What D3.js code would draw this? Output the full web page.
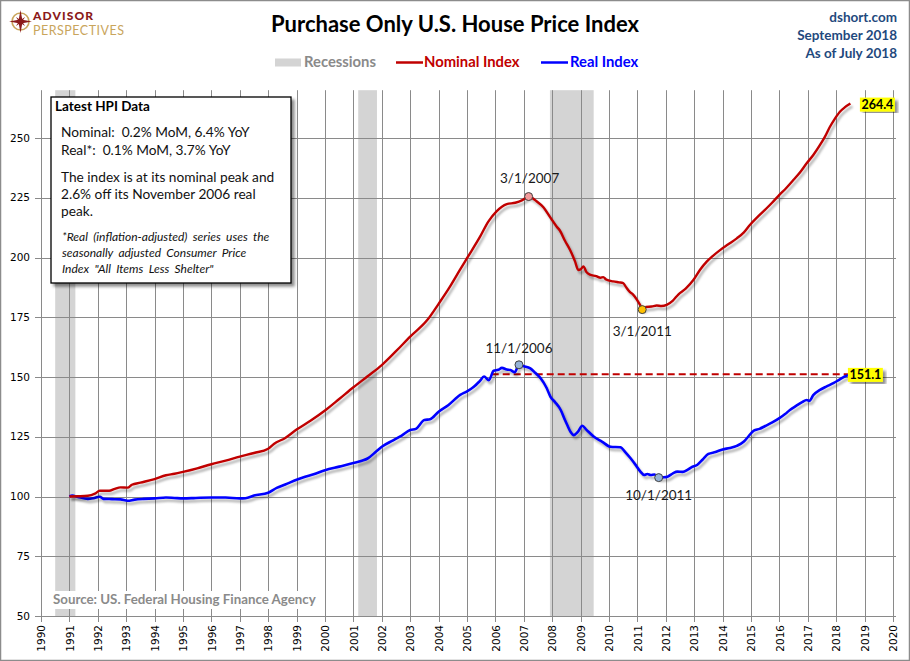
<!DOCTYPE html>
<html>
<head>
<meta charset="utf-8">
<script src="https://cdn.jsdelivr.net/npm/d3@7"></script>
<style>
  body { margin: 0; background: #fff; }
  svg { display: block; }
</style>
</head>
<body>
<svg id="chart" width="910" height="661"></svg>
<script>
// ---------------- DATA ----------------
const nominalYears = [1991.0,1991.3,1991.65,1991.9,1992.07,1992.4,1992.6,1992.8,1993.05,1993.2,1993.5,1994.0,1994.4,1994.7,1995.0,1995.5,1996.0,1996.5,1997.0,1997.5,1998.0,1998.2,1998.6,1999.0,1999.5,2000.0,2000.5,2001.0,2001.5,2002.0,2002.5,2003.0,2003.6,2004.0,2004.4,2004.75,2005.0,2005.46,2005.75,2006.04,2006.4,2006.7,2006.95,2007.17,2007.45,2007.69,2007.92,2008.16,2008.27,2008.45,2008.63,2008.8,2008.92,2009.0,2009.1,2009.2,2009.33,2009.55,2009.7,2009.8,2009.9,2010.15,2010.35,2010.5,2010.6,2010.74,2010.85,2010.98,2011.1,2011.17,2011.3,2011.5,2011.68,2011.85,2012.03,2012.25,2012.44,2012.7,2012.97,2013.2,2013.44,2013.65,2013.91,2014.2,2014.5,2014.75,2014.96,2015.25,2015.55,2015.75,2015.96,2016.25,2016.49,2016.75,2016.96,2017.2,2017.43,2017.6,2017.78,2017.95,2018.13,2018.3,2018.5];
const nominalValues = [100.0,100.1,100.3,101.2,102.4,102.4,103.2,103.8,103.7,104.9,105.8,107.3,108.9,109.5,110.3,111.8,113.5,115.0,116.7,118.2,120.0,122.0,124.5,128.0,131.8,136.0,140.8,145.7,150.3,155.0,160.8,166.9,173.8,180.6,187.8,194.8,199.7,208.7,215.0,219.3,222.3,222.9,224.0,225.5,223.5,221.0,217.0,212.9,211.3,207.0,203.1,198.5,194.8,195.0,196.3,194.0,192.8,192.2,191.5,191.8,190.8,190.0,189.6,189.3,187.6,185.5,184.5,182.4,180.0,178.2,179.3,179.5,179.9,179.7,180.2,182.0,184.5,187.0,190.6,194.8,198.3,200.6,203.1,205.5,208.0,210.5,213.6,217.2,220.6,223.0,225.7,229.2,232.4,236.0,239.4,243.0,247.1,250.5,254.7,258.0,261.0,262.8,264.4];

const realYears = [1991.0,1991.1,1991.3,1991.65,1991.85,1992.07,1992.2,1992.5,1992.8,1993.05,1993.3,1993.6,1994.0,1994.4,1994.7,1995.0,1995.3,1995.6,1996.0,1996.5,1997.0,1997.2,1997.5,1998.0,1998.3,1998.6,1999.0,1999.3,1999.6,2000.0,2000.5,2001.0,2001.3,2001.5,2001.8,2002.0,2002.4,2002.7,2003.0,2003.2,2003.5,2003.7,2004.0,2004.35,2004.76,2005.0,2005.24,2005.45,2005.6,2005.77,2005.94,2006.1,2006.23,2006.4,2006.53,2006.68,2006.83,2007.0,2007.23,2007.4,2007.6,2007.8,2007.94,2008.1,2008.3,2008.45,2008.53,2008.65,2008.76,2008.9,2009.06,2009.2,2009.47,2009.75,2010.06,2010.4,2010.58,2010.76,2010.95,2011.1,2011.24,2011.35,2011.47,2011.6,2011.75,2011.9,2012.06,2012.25,2012.41,2012.6,2012.76,2012.9,2013.1,2013.3,2013.5,2013.75,2014.0,2014.25,2014.5,2014.75,2014.9,2015.1,2015.3,2015.5,2015.75,2016.0,2016.2,2016.37,2016.6,2016.8,2016.96,2017.05,2017.2,2017.43,2017.65,2017.9,2018.1,2018.3,2018.5];
const realValues = [100.0,100.4,99.8,99.0,99.3,99.9,99.0,98.9,98.8,98.2,98.7,99.0,99.2,99.6,99.4,99.2,99.3,99.5,99.6,99.6,99.2,99.3,100.4,101.6,103.6,105.0,107.0,108.3,109.3,111.0,112.5,114.0,115.0,115.9,118.8,120.8,123.5,125.5,127.8,128.3,132.0,132.3,135.5,138.3,142.5,144.0,145.9,148.3,150.2,148.7,152.6,153.0,153.8,153.1,152.9,152.0,155.1,154.5,153.6,151.8,149.4,145.5,141.7,139.5,136.2,132.0,129.9,127.0,125.7,127.0,129.6,128.0,125.0,123.0,120.8,120.6,118.5,116.0,113.0,110.5,109.0,109.4,109.0,109.2,107.9,108.0,108.3,109.7,110.4,110.3,111.1,112.2,113.2,115.5,117.8,118.6,119.7,120.3,121.2,123.0,125.0,127.6,128.3,129.5,131.0,132.8,134.5,136.2,138.0,139.5,140.4,140.0,142.5,144.6,146.0,147.4,148.8,150.2,151.1];

const recessionStarts = [1990.5, 2001.17, 2007.92];
const recessionEnds   = [1991.21, 2001.83, 2009.46];

const xTickYears = d3.range(1990, 2021);
const yTickValues = [50, 75, 100, 125, 150, 175, 200, 225, 250];

const markerLabels = ["3/1/2007", "3/1/2011", "11/1/2006", "10/1/2011"];
const markerYears  = [2007.17, 2011.17, 2006.83, 2011.75];
const markerValues = [225.5, 178.2, 155.1, 107.9];

const latestNominal = 264.4;
const latestReal = 151.1;
const latestYear = 2018.5;
const dashStartYear = 2005.87;

// ---------------- LAYOUT ----------------
const svg = d3.select("#chart");
const W = 910, H = 661;
const x = d3.scaleLinear().domain([1990, 2020]).range([41, 893]);
const y = d3.scaleLinear().domain([50, 270]).range([616, 90.2]);
const FONT = "Lato, 'Open Sans', sans-serif";
const AXFONT = "'DejaVu Sans', Verdana, sans-serif";
const RED = "#c00000", BLUE = "#0000ff";

const defs = svg.append("defs");
const f = defs.append("filter").attr("id", "shadow").attr("x", "-5%").attr("y", "-5%").attr("width", "110%").attr("height", "110%");
f.append("feDropShadow").attr("dx", 2).attr("dy", 3).attr("stdDeviation", 1.3)
  .attr("flood-color", "#000").attr("flood-opacity", 0.3);
const f2 = defs.append("filter").attr("id", "boxshadow").attr("x", "-10%").attr("y", "-10%").attr("width", "120%").attr("height", "120%");
f2.append("feDropShadow").attr("dx", 3).attr("dy", 3).attr("stdDeviation", 1.5)
  .attr("flood-color", "#000").attr("flood-opacity", 0.45);

// background + border
svg.append("rect").attr("x", 0.5).attr("y", 0.5).attr("width", W - 1).attr("height", H - 1)
  .attr("fill", "#fff").attr("stroke", "#8c8c8c").attr("stroke-width", 1.5);

// recessions
svg.append("g").selectAll("rect").data(recessionStarts).join("rect")
  .attr("x", (d) => x(d))
  .attr("y", y(270))
  .attr("width", (d, i) => x(recessionEnds[i]) - x(d))
  .attr("height", y(50) - y(270))
  .attr("fill", "#d4d4d4");

// gridlines
const grid = svg.append("g").attr("stroke", "#8a8a8a").attr("stroke-width", 1);
grid.selectAll("line.v").data(xTickYears).join("line").attr("class", "v")
  .attr("x1", (d) => Math.round(x(d)) + 0.5).attr("x2", (d) => Math.round(x(d)) + 0.5)
  .attr("y1", y(270)).attr("y2", y(50) + 6);
grid.selectAll("line.h").data(yTickValues).join("line").attr("class", "h")
  .attr("x1", x(1990) - 6).attr("x2", x(2020) + 3)
  .attr("y1", (d) => Math.round(y(d)) + 0.5).attr("y2", (d) => Math.round(y(d)) + 0.5);

// axes labels
svg.append("g").selectAll("text").data(yTickValues).join("text")
  .attr("x", 30).attr("y", (d) => y(d)).attr("dy", "0.35em")
  .attr("text-anchor", "end").attr("font-family", AXFONT).attr("font-size", 10.5)
  .attr("fill", "#000").text((d) => d);
svg.append("g").selectAll("text").data(xTickYears).join("text")
  .attr("transform", (d) => `translate(${x(d) + 0.5},${y(50) + 9}) rotate(-90)`)
  .attr("dy", "0.36em").attr("text-anchor", "end")
  .attr("font-family", AXFONT).attr("font-size", 10.5).attr("fill", "#000")
  .text((d) => d);

// dashed line at current real level
svg.append("line")
  .attr("x1", x(dashStartYear)).attr("x2", x(latestYear))
  .attr("y1", y(latestReal)).attr("y2", y(latestReal))
  .attr("stroke", RED).attr("stroke-width", 2).attr("stroke-dasharray", "7,4");

// lines
const line = d3.line().x((d) => x(d[0])).y((d) => y(d[1])).curve(d3.curveMonotoneX);
const nominalData = nominalYears.map((yr, i) => [yr, nominalValues[i]]);
const realData = realYears.map((yr, i) => [yr, realValues[i]]);
svg.append("path").datum(realData).attr("d", line).attr("fill", "none")
  .attr("stroke", BLUE).attr("stroke-width", 2.6).attr("stroke-linejoin", "round").attr("filter", "url(#shadow)");
svg.append("path").datum(nominalData).attr("d", line).attr("fill", "none")
  .attr("stroke", RED).attr("stroke-width", 2.4).attr("stroke-linejoin", "round").attr("filter", "url(#shadow)");

// markers
const markerFill = ["#f49a9a", "#ffc000", "#95b3d7", "#95b3d7"];
svg.append("g").selectAll("circle").data(markerYears).join("circle")
  .attr("cx", (d) => x(d)).attr("cy", (d, i) => y(markerValues[i])).attr("r", 4)
  .attr("fill", (d, i) => markerFill[i]).attr("stroke", "#404040").attr("stroke-width", 1);
const labelDy = [-14, 26, -12, 22];
svg.append("g").selectAll("text").data(markerLabels).join("text")
  .attr("x", (d, i) => x(markerYears[i]) + (i === 0 ? 1 : 0))
  .attr("y", (d, i) => y(markerValues[i]) + labelDy[i])
  .attr("text-anchor", "middle").attr("font-family", FONT).attr("font-size", 13.5)
  .attr("fill", "#1a1a1a").text((d) => d);

// end labels
function endLabel(val, xPos, yPos) {
  const g = svg.append("g");
  const t = g.append("text").attr("x", xPos).attr("y", yPos).attr("dy", "0.36em")
    .attr("font-family", FONT).attr("font-weight", "bold").attr("font-size", 12.5)
    .attr("fill", "#000").text(val.toFixed(1));
  const bb = t.node().getBBox();
  g.insert("rect", "text").attr("x", bb.x - 1.5).attr("y", bb.y + 0.5).attr("width", bb.width + 3).attr("height", bb.height - 1)
    .attr("fill", "#ffff00").attr("filter", "url(#boxshadow)");
}
endLabel(latestNominal, x(latestYear) + 11, y(latestNominal) + 1);
endLabel(latestReal, x(latestYear) - 1, y(latestReal) + 0.5);

// annotation box
const box = svg.append("g");
box.append("rect").attr("x", 51).attr("y", 97).attr("width", 240).attr("height", 186)
  .attr("fill", "#fff").attr("stroke", "#000").attr("stroke-width", 1.3).attr("filter", "url(#boxshadow)");
box.append("text").attr("x", 55).attr("y", 111).attr("font-family", FONT).attr("font-weight", "bold")
  .attr("font-size", 13.5).text("Latest HPI Data");
const mainLines = [["Nominal:\u00a0 0.2% MoM, 6.4% YoY", 137], ["Real*:\u00a0 0.1% MoM, 3.7% YoY", 155],
  ["The index is at its nominal peak and", 182], ["2.6% off its November 2006 real", 199], ["peak.", 216]];
box.selectAll("text.m").data(mainLines).join("text").attr("class", "m")
  .attr("x", 61).attr("y", (d) => d[1]).attr("font-family", FONT).attr("font-size", 13.7).attr("fill", "#111")
  .text((d) => d[0]);
const noteLines = [["*Real (inflation-adjusted) series uses the", 241], ["seasonally adjusted Consumer Price", 257], ["Index \"All Items Less Shelter\"", 273]];
box.selectAll("text.n").data(noteLines).join("text").attr("class", "n")
  .attr("x", 62).attr("y", (d) => d[1]).attr("font-family", FONT).attr("font-size", 12).attr("font-style", "italic")
  .attr("word-spacing", 2.5).attr("fill", "#111").text((d) => d[0]);

// source
const src = svg.append("g");
src.append("rect").attr("x", 51).attr("y", 591).attr("width", 272).attr("height", 18).attr("fill", "#fff");
src.append("text").attr("x", 53).attr("y", 604).attr("font-family", FONT).attr("font-weight", "bold")
  .attr("font-size", 13.3).attr("fill", "#8a8a8a").text("Source: US. Federal Housing Finance Agency");

// title
svg.append("text").attr("x", 455).attr("y", 32).attr("text-anchor", "middle")
  .attr("font-family", FONT).attr("font-weight", "bold").attr("font-size", 22).attr("fill", "#000")
  .text("Purchase Only U.S. House Price Index");

// top-right
const trLines = [["dshort.com", 22], ["September 2018", 40], ["As of July 2018", 58]];
svg.append("g").selectAll("text").data(trLines).join("text")
  .attr("x", 897).attr("y", (d) => d[1]).attr("text-anchor", "end")
  .attr("font-family", FONT).attr("font-weight", "bold").attr("font-size", 13.5).attr("fill", "#1f497d")
  .text((d) => d[0]);

// legend
const lg = svg.append("g").attr("font-family", FONT).attr("font-weight", "bold").attr("font-size", 14.8);
lg.append("rect").attr("x", 275).attr("y", 58.5).attr("width", 26).attr("height", 8).attr("fill", "#d4d4d4");
lg.append("text").attr("x", 304).attr("y", 67).attr("fill", "#8a8a8a").text("Recessions");
lg.append("line").attr("x1", 396).attr("x2", 423).attr("y1", 62.5).attr("y2", 62.5).attr("stroke", RED).attr("stroke-width", 2.5);
lg.append("text").attr("x", 424).attr("y", 67).attr("fill", RED).text("Nominal Index");
lg.append("line").attr("x1", 541).attr("x2", 568).attr("y1", 62.5).attr("y2", 62.5).attr("stroke", BLUE).attr("stroke-width", 2.5);
lg.append("text").attr("x", 570).attr("y", 67).attr("fill", BLUE).text("Real Index");

// logo
const logo = svg.append("g");
logo.append("circle").attr("cx", 20.5).attr("cy", 21.5).attr("r", 8.5).attr("fill", "none")
  .attr("stroke", "#c9a55c").attr("stroke-width", 1.6);
logo.append("path").attr("d", "M20.5,10 L22.3,19.7 L32,21.5 L22.3,23.3 L20.5,33 L18.7,23.3 L9,21.5 L18.7,19.7 Z").attr("fill", "#8b1a1a");
logo.append("path").attr("d", "M20.5,15 L21.6,20.4 L27,21.5 L21.6,22.6 L20.5,28 L19.4,22.6 L14,21.5 L19.4,20.4 Z")
  .attr("fill", "#8b1a1a").attr("transform", "rotate(45 20.5 21.5)");
logo.append("text").attr("x", 33).attr("y", 19.5).attr("font-family", FONT).attr("font-size", 12)
  .attr("font-weight", "900").attr("letter-spacing", 1.1).attr("fill", "#8b1a1a").text("ADVISOR");
logo.append("text").attr("x", 33).attr("y", 34.5).attr("font-family", FONT).attr("font-size", 12.5)
  .attr("font-weight", "normal").attr("letter-spacing", 0.5).attr("fill", "#c9a55c").text("PERSPECTIVES");
</script>
</body>
</html>
